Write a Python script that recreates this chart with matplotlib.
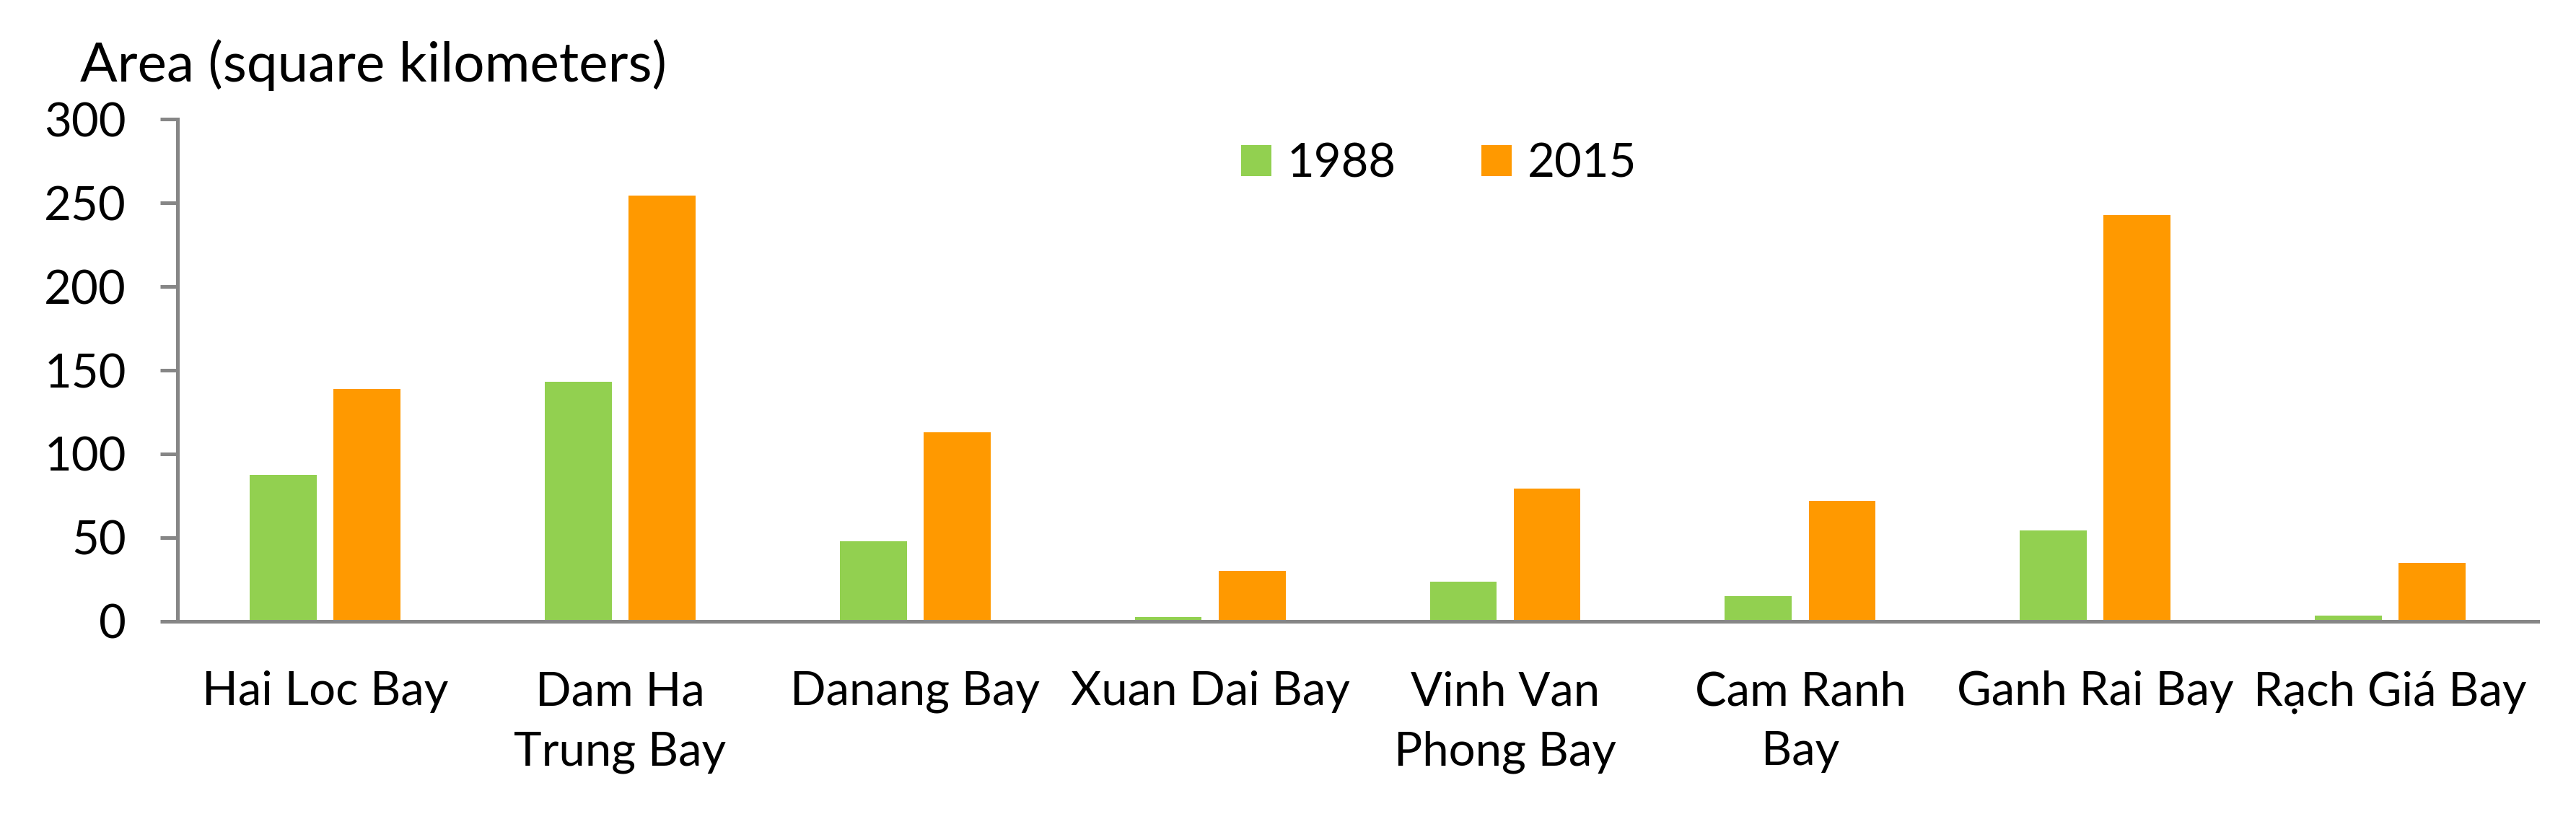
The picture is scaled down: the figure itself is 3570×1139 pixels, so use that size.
import matplotlib
matplotlib.use("Agg")
import matplotlib.pyplot as plt
import numpy as np

# data
bays = ["Hai Loc Bay", "Dam Ha\nTrung Bay", "Danang Bay", "Xuan Dai Bay",
        "Vinh Van\nPhong Bay", "Cam Ranh\nBay", "Ganh Rai Bay", "Rạch Giá Bay"]
area_1988 = [87.5, 142.9, 47.7, 2.7, 23.9, 15.2, 54.5, 3.5]
area_2015 = [138.7, 254.3, 113.0, 30.0, 79.3, 72.0, 242.5, 35.1]
yticks = [0, 50, 100, 150, 200, 250, 300]

GREEN = "#92D050"
ORANGE = "#FF9900"
AXIS_GREY = "#868686"
FONT = ["Lato", "DejaVu Sans"]

plt.rcParams["font.family"] = FONT

fig = plt.figure(figsize=(35.7, 11.39), dpi=100)
ax = fig.add_axes([0.0689, 0.2441, 0.9163, 0.6110])

x = np.arange(len(bays))
w = 0.227
off = 0.142
ax.bar(x - off, area_1988, width=w, color=GREEN, label="1988", zorder=2)
ax.bar(x + off, area_2015, width=w, color=ORANGE, label="2015", zorder=2)

ax.set_xlim(-0.5, len(bays) - 0.5)
ax.set_ylim(0, 300)
ax.set_yticks(yticks)
ax.set_xticks(x)
ax.set_xticklabels(bays, linespacing=1.5)

for s in ["top", "right"]:
    ax.spines[s].set_visible(False)
for s in ["left", "bottom"]:
    ax.spines[s].set_color(AXIS_GREY)
    ax.spines[s].set_linewidth(3.6)
    ax.spines[s].set_zorder(3)

ax.tick_params(axis="y", direction="out", length=17.3, width=3.6,
               color=AXIS_GREY, labelsize=47, pad=34)
ax.tick_params(axis="x", length=0, labelsize=47, pad=49)

fig.text(0.0311, 0.9010, "Area (square kilometers)", fontsize=55,
         va="baseline", ha="left")

ax.legend(loc="center", bbox_to_anchor=(0.5586, 0.8007),
          bbox_transform=fig.transFigure, ncol=2, frameon=False,
          fontsize=47, handlelength=0.64, handleheight=0.64,
          handletextpad=0.34, columnspacing=1.81)

fig.savefig("out.png", dpi=100)
